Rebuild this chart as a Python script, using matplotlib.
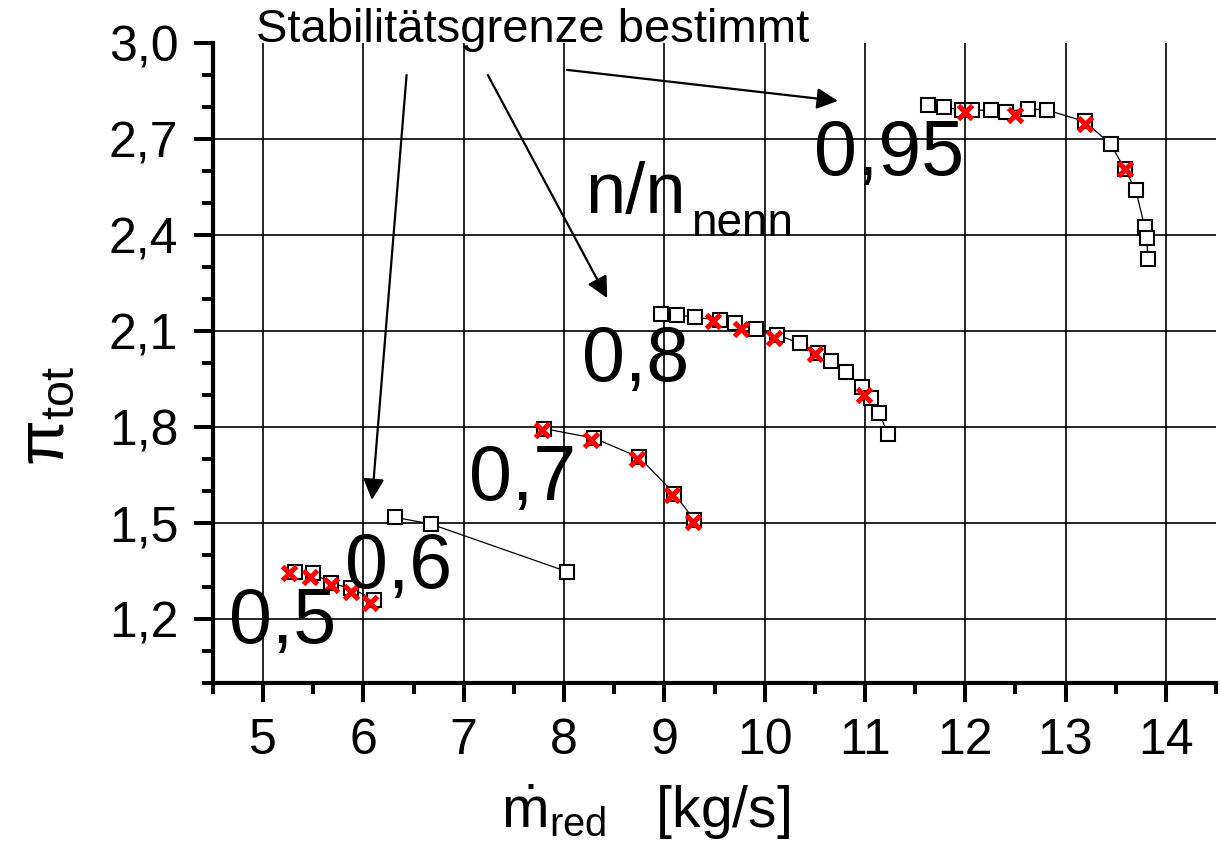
import matplotlib
matplotlib.use('agg')
from matplotlib import pyplot as plt
from matplotlib.ticker import MultipleLocator, FixedLocator
import numpy as np


plt.rcParams['font.family'] = ['Liberation Sans', 'DejaVu Sans']
plt.rcParams['mathtext.fontset'] = 'custom'
plt.rcParams['mathtext.rm'] = 'Liberation Sans'
plt.rcParams['mathtext.it'] = 'Liberation Sans'

# speed lines n/n_nenn: measured operating points
m_050 = [5.32, 5.50, 5.68, 5.88, 6.11]
pi_050 = [1.348, 1.343, 1.311, 1.296, 1.259]
m_060 = [6.31, 6.67, 8.03]
pi_060 = [1.518, 1.497, 1.348]
m_070 = [7.80, 8.30, 8.75, 9.10, 9.30]
pi_070 = [1.795, 1.765, 1.705, 1.592, 1.508]
m_080 = [8.97, 9.13, 9.31, 9.55, 9.70, 9.91, 10.12, 10.35, 10.53, 10.66,
         10.81, 10.97, 11.06, 11.14, 11.23]
pi_080 = [2.153, 2.150, 2.143, 2.134, 2.124, 2.105, 2.088, 2.062, 2.032, 2.005,
          1.973, 1.926, 1.892, 1.845, 1.778]
m_095 = [11.63, 11.79, 11.97, 12.07, 12.26, 12.41, 12.63, 12.82, 13.19, 13.45,
         13.59, 13.70, 13.79, 13.81, 13.82]
pi_095 = [2.806, 2.800, 2.790, 2.790, 2.790, 2.785, 2.795, 2.790, 2.755, 2.684,
          2.606, 2.540, 2.425, 2.390, 2.325]

# points where the stability limit was determined
stab_m_050 = [5.26, 5.47, 5.68, 5.88, 6.07]
stab_pi_050 = [1.345, 1.332, 1.306, 1.285, 1.251]
stab_m_070 = [7.78, 8.27, 8.73, 9.08, 9.29]
stab_pi_070 = [1.790, 1.760, 1.700, 1.587, 1.503]
stab_m_080 = [9.49, 9.76, 10.09, 10.50, 10.99]
stab_pi_080 = [2.130, 2.106, 2.079, 2.027, 1.900]
stab_m_095 = [12.00, 12.50, 13.19, 13.59]
stab_pi_095 = [2.783, 2.775, 2.748, 2.605]

speed_labels = ['0,5', '0,6', '0,7', '0,8', '0,95']
yticks = [1.2, 1.5, 1.8, 2.1, 2.4, 2.7, 3.0]
xticks = [5, 6, 7, 8, 9, 10, 11, 12, 13, 14]


fig = plt.figure(figsize=(12.2, 8.48), dpi=100)
ax = fig.add_axes([213 / 1220, 1 - 683 / 848, 1003 / 1220, 640 / 848])

lines = [(m_050, pi_050), (m_060, pi_060), (m_070, pi_070),
         (m_080, pi_080), (m_095, pi_095)]
for m, p in lines:
    ax.plot(m, p, color='k', lw=0.9, zorder=3)
    ax.plot(m, p, ls='none', marker='s', ms=9.5, mfc='white', mec='k',
            mew=1.5, zorder=4)

stab = [(stab_m_050, stab_pi_050), (stab_m_070, stab_pi_070),
        (stab_m_080, stab_pi_080), (stab_m_095, stab_pi_095)]
for m, p in stab:
    ax.plot(m, p, ls='none', marker='x', ms=10.5, mec='red', mew=3.6, zorder=5)

ax.set_xlim(4.5, 14.5)
ax.set_ylim(1.0, 3.0)
ax.xaxis.set_major_locator(FixedLocator(xticks))
ax.xaxis.set_minor_locator(MultipleLocator(0.5))
ax.yaxis.set_major_locator(FixedLocator(yticks))
ax.yaxis.set_minor_locator(MultipleLocator(0.1))
ax.set_xticklabels([str(t) for t in xticks])
ax.set_yticklabels([('%.1f' % t).replace('.', ',') for t in yticks])

ax.tick_params(which='major', direction='out', length=14, width=2.9,
               labelsize=36, pad=11)
ax.tick_params(which='minor', direction='out', length=8, width=2.9)

for side in ['top', 'right']:
    ax.spines[side].set_visible(False)
for side in ['left', 'bottom']:
    ax.spines[side].set_linewidth(3)

ax.grid(True, which='major', color='k', lw=1.2)
ax.get_ygridlines()[-1].set_visible(False)
ax.set_axisbelow(True)

# speed labels
label_pos = [(4.66, 1.125), (5.82, 1.297), (7.05, 1.572), (8.18, 1.944), (10.49, 2.588)]
for txt, (x, y) in zip(speed_labels, label_pos):
    ax.text(x, y, txt, fontsize=55.5, ha='left', va='baseline', zorder=6)

ax.text(8.21, 2.469, 'n/n', fontsize=52, ha='left', va='baseline', zorder=6)
ax.text(9.27, 2.397, 'nenn', fontsize=33, ha='left', va='baseline', zorder=6)

ax.text(4.93, 3.003, 'Stabilitätsgrenze bestimmt', fontsize=34,
        ha='left', va='baseline', clip_on=False)

arrows = [((6.43, 2.90), (6.085, 1.572)),
          ((7.24, 2.90), (8.43, 2.203)),
          ((8.03, 2.916), (10.73, 2.819))]
for start, tip in arrows:
    ax.annotate('', xy=tip, xytext=start, annotation_clip=False,
                arrowprops=dict(arrowstyle='-|>', color='k', lw=1.6,
                                mutation_scale=32, shrinkA=0, shrinkB=0))

fig.text(46 / 1220, 1 - 416 / 848, r'$\mathregular{π_{tot}}$', fontsize=48,
         rotation=90, ha='center', va='center')
fig.text(645 / 1220, 1 - 812 / 848, r'$\mathregular{\dot{m}_{red}}$   [kg/s]',
         fontsize=41, ha='center', va='center')

fig.savefig('out.png', dpi=100)
